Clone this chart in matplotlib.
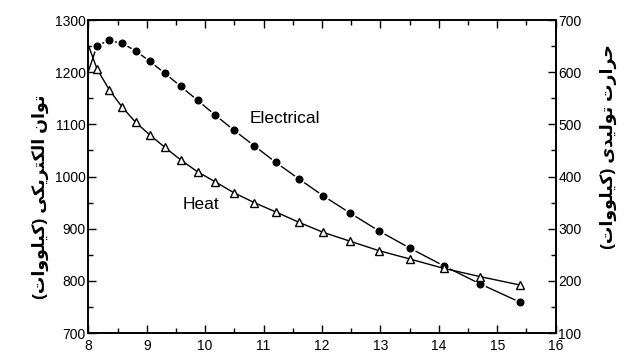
import numpy as np
import matplotlib
matplotlib.use("Agg")
import matplotlib.pyplot as plt
from matplotlib.ticker import MultipleLocator

plt.rcParams['font.family'] = ['Liberation Sans', 'DejaVu Sans']

# flow rate (x) and outputs
x = [8.0, 8.15, 8.36, 8.58, 8.81, 9.05, 9.31, 9.58, 9.87, 10.17, 10.49,
     10.84, 11.21, 11.61, 12.02, 12.48, 12.97, 13.50, 14.08, 14.71, 15.39]
electrical = [1201, 1251, 1261, 1255, 1241, 1221, 1198, 1173, 1146, 1118, 1089,
              1059, 1027, 995, 963, 930, 896, 863, 829, 794, 759]
heat = [652, 606, 566, 533, 504, 480, 456, 432, 409, 390, 369,
        350, 332, 312, 293, 276, 258, 242, 224, 208, 192]

left_label = "توان الکتریکی (کیلووات)"
right_label = "حرارت تولیدی (کیلووات)"

# poor man's arabic shaping: (isolated, final, initial, medial)
forms = {
    'ا': ('\uFE8D', '\uFE8E', None, None),
    'ت': ('\uFE95', '\uFE96', '\uFE97', '\uFE98'),
    'ح': ('\uFEA1', '\uFEA2', '\uFEA3', '\uFEA4'),
    'د': ('\uFEA9', '\uFEAA', None, None),
    'ر': ('\uFEAD', '\uFEAE', None, None),
    'ل': ('\uFEDD', '\uFEDE', '\uFEDF', '\uFEE0'),
    'ن': ('\uFEE5', '\uFEE6', '\uFEE7', '\uFEE8'),
    'و': ('\uFEED', '\uFEEE', None, None),
    'ک': ('\uFB8E', '\uFB8F', '\uFB90', '\uFB91'),
    'ی': ('\uFBFC', '\uFBFD', '\uFBFE', '\uFBFF'),
}


def shape(s):
    out = []
    for i, c in enumerate(s):
        if c not in forms:
            out.append(c)
            continue
        prev = s[i - 1] if i > 0 else ''
        nxt = s[i + 1] if i + 1 < len(s) else ''
        jp = prev in forms and forms[prev][2] is not None
        jn = nxt in forms and forms[c][2] is not None
        f = forms[c]
        if jp and jn:
            out.append(f[3])
        elif jp:
            out.append(f[1])
        elif jn:
            out.append(f[2])
        else:
            out.append(f[0])
    vis = ''.join(reversed(out))
    return vis.translate(str.maketrans('()', ')('))


fig = plt.figure(figsize=(6.24, 3.54), dpi=100)
ax = fig.add_axes([0.1415, 0.0593, 0.749, 0.8842])
ax2 = ax.twinx()

ax.plot(x, electrical, color='black', lw=1.0, marker='o', ms=7,
        mfc='black', mec='white', mew=1.2, markevery=range(1, len(x)),
        zorder=3)
ax2.plot(x, heat, color='black', lw=1.0, marker='^', ms=5.5,
         mfc='white', mec='black', mew=1.0, markevery=range(1, len(x)))

ax.set_xlim(8, 16)
ax.set_ylim(700, 1300)
ax2.set_ylim(100, 700)

ax.xaxis.set_major_locator(MultipleLocator(1))
ax.xaxis.set_minor_locator(MultipleLocator(0.5))
ax.yaxis.set_major_locator(MultipleLocator(100))
ax.yaxis.set_minor_locator(MultipleLocator(50))
ax2.yaxis.set_major_locator(MultipleLocator(100))
ax2.yaxis.set_minor_locator(MultipleLocator(50))

ax.tick_params(which='both', direction='in', top=True, labelsize=10, pad=2)
ax.tick_params(axis='x', which='both', pad=4)
ax.tick_params(which='major', length=6, width=1)
ax.tick_params(which='minor', length=3.5, width=1)
ax2.tick_params(which='both', direction='in', labelsize=10, pad=2)
ax2.tick_params(which='major', length=6, width=1)
ax2.tick_params(which='minor', length=3.5, width=1)
for a in (ax, ax2):
    for sp in a.spines.values():
        sp.set_linewidth(1.2)

ax.text(11.36, 1111, "Electrical", fontsize=12.5, ha='center', va='center')
ax.text(9.93, 947, "Heat", fontsize=12.5, ha='center', va='center')

fig.text(40 / 624, 1 - 197 / 354, shape(left_label), rotation=90,
         fontsize=12.5, fontweight='bold', ha='center', va='center')
fig.text(608 / 624, 1 - 147 / 354, shape(right_label), rotation=90,
         fontsize=12.5, fontweight='bold', ha='center', va='center')

fig.savefig("out.png", dpi=100)
